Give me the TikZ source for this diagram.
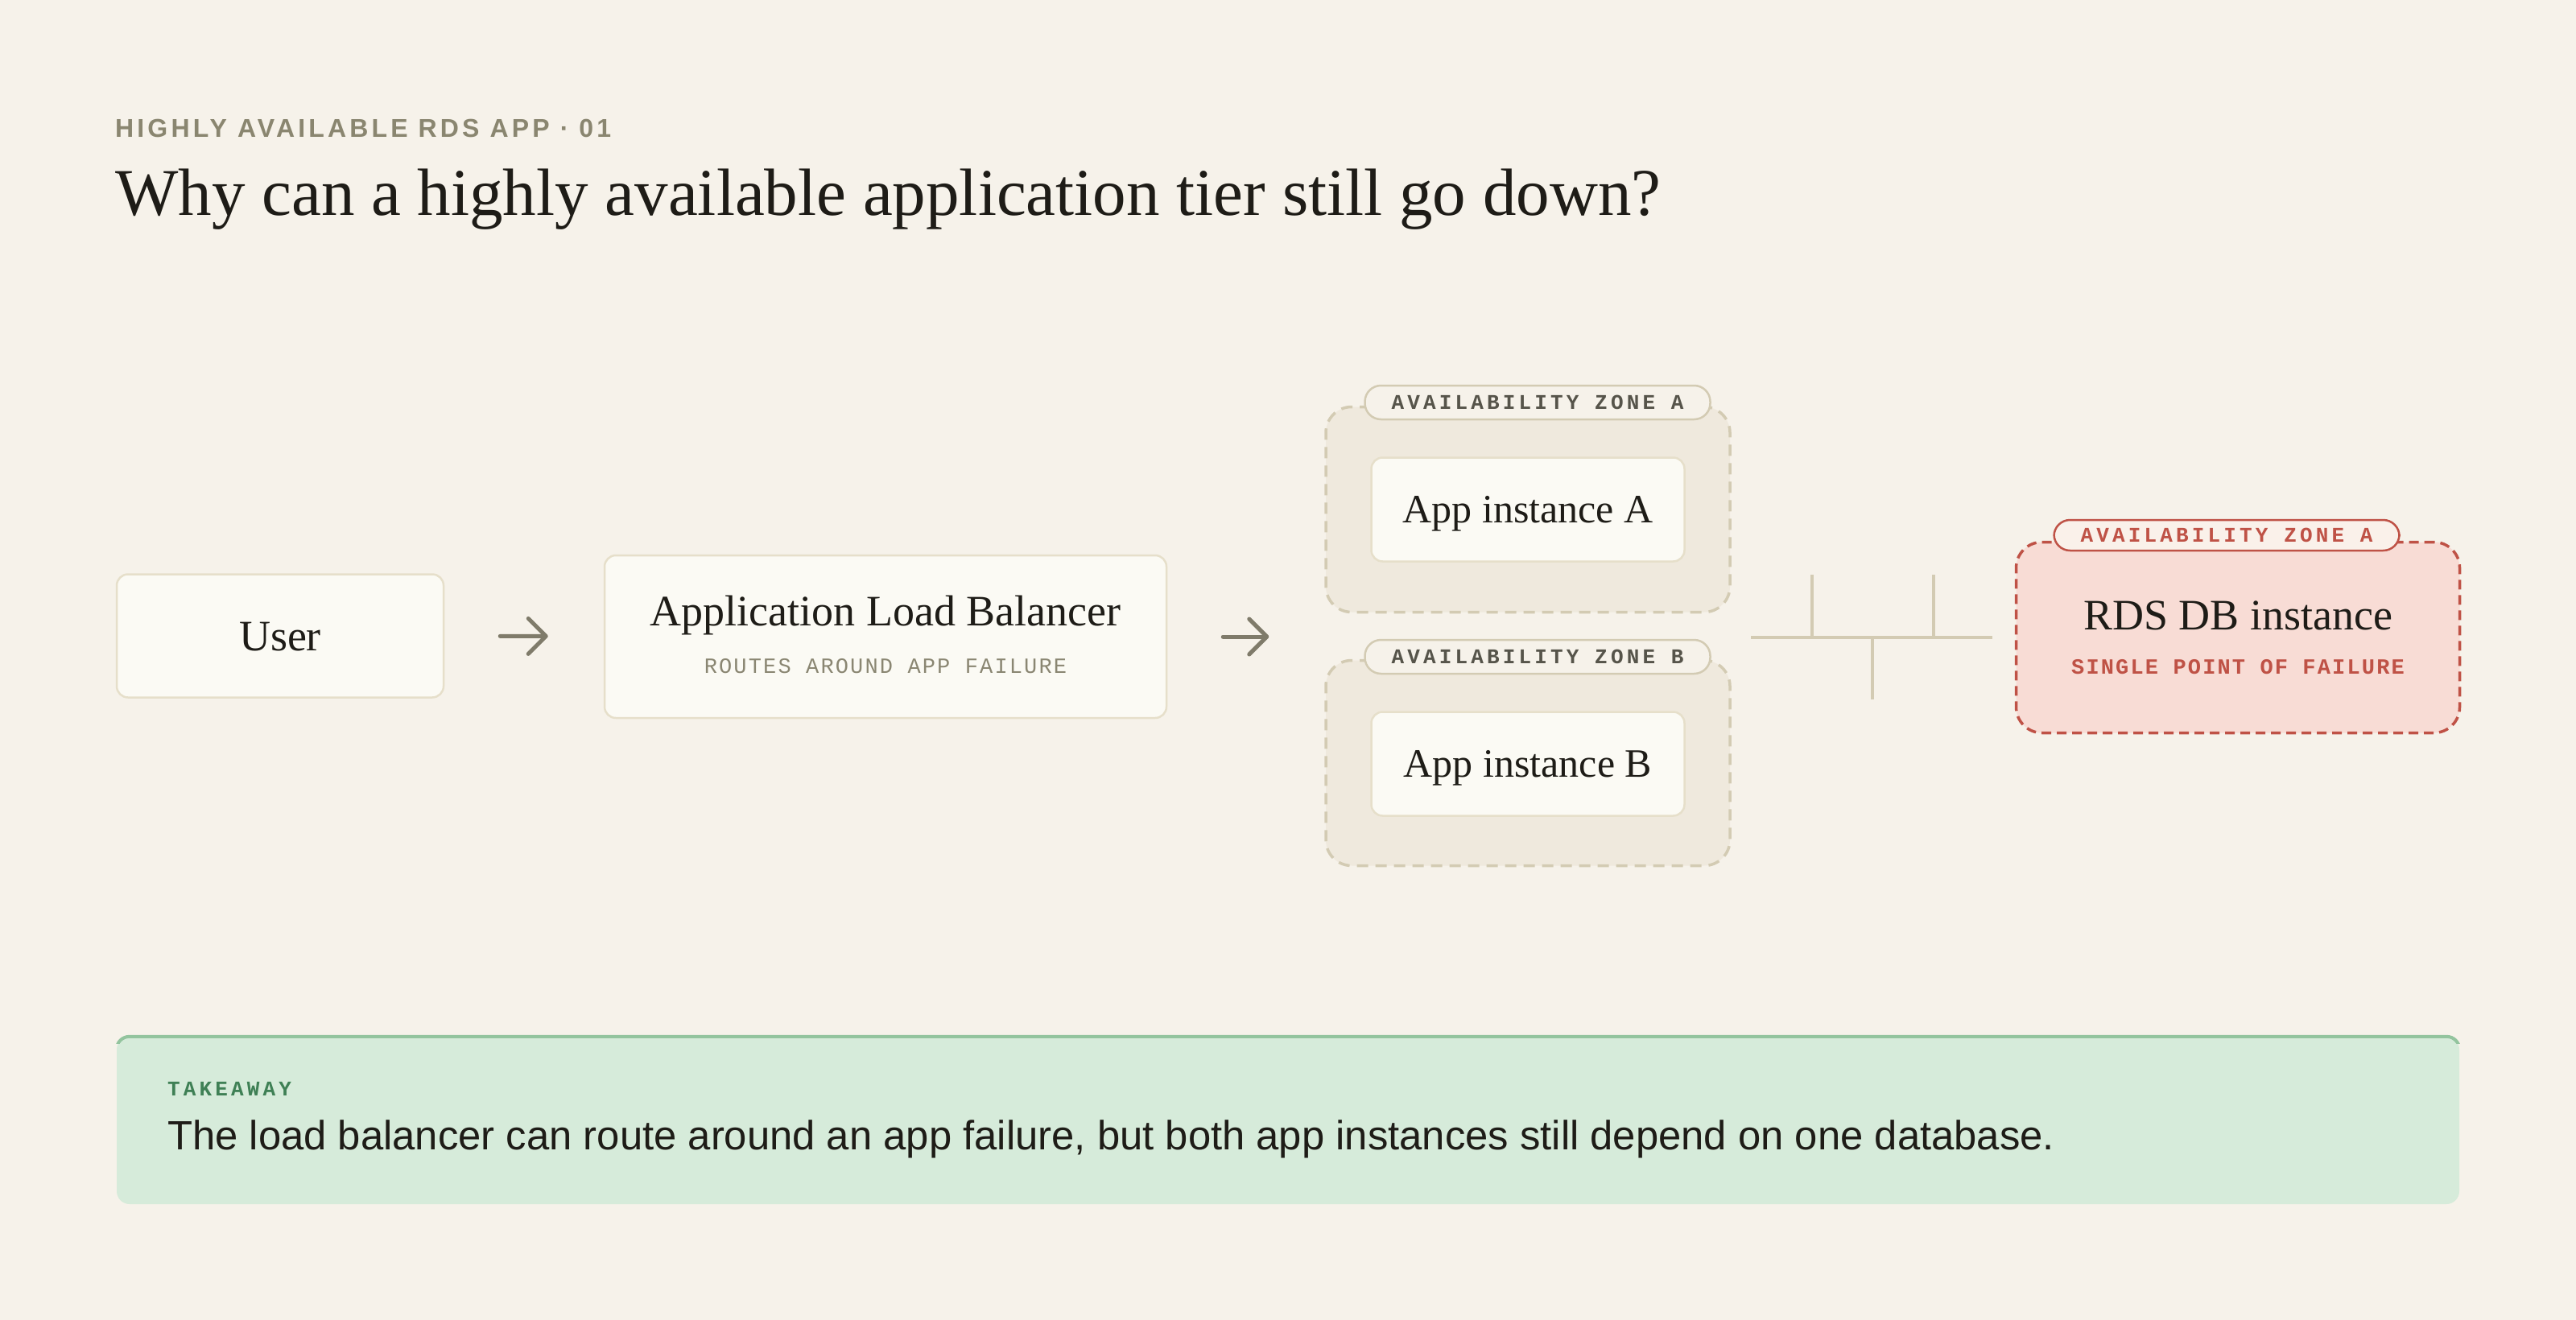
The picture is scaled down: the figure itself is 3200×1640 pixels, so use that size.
\documentclass[tikz,border=0pt]{standalone}
\usepackage{fontspec}
\setmainfont{Liberation Serif}
\setsansfont{Liberation Sans}
\setmonofont{Liberation Mono}
\newfontfamily\kickerfont[LetterSpace=13]{Liberation Sans}
\newfontfamily\tagfont[LetterSpace=16]{Liberation Mono}
\newfontfamily\notefont[LetterSpace=8]{Liberation Mono}
\usetikzlibrary{arrows.meta}
\definecolor{bgcream}{HTML}{F6F2EA}
\definecolor{kicker}{HTML}{8A8670}
\definecolor{ink}{HTML}{1E1C17}
\definecolor{cardfill}{HTML}{FBFAF4}
\definecolor{cardline}{HTML}{E6DFCA}
\definecolor{zonefill}{HTML}{EFE9DD}
\definecolor{zoneline}{HTML}{D3CBB3}
\definecolor{tagtext}{HTML}{56544A}
\definecolor{arrowgray}{HTML}{7F7B6A}
\definecolor{notegray}{HTML}{8A8672}
\definecolor{failfill}{HTML}{F8DCD5}
\definecolor{failred}{HTML}{BF5246}
\definecolor{failtag}{HTML}{FAF1EA}
\definecolor{takefill}{HTML}{D6EBDA}
\definecolor{takeline}{HTML}{93C49E}
\definecolor{takegreen}{HTML}{3F8055}
\begin{document}
\begin{tikzpicture}[x=1pt, y=-1pt, line join=round,
    card/.style={draw=cardline, fill=cardfill, line width=2.5pt, rounded corners=14pt, inner sep=0pt,
        text=ink, text height=36pt, text depth=0pt, font=\fontsize{54}{60}\selectfont},
    zonebox/.style={draw=zoneline, fill=zonefill, line width=3.5pt, dash pattern=on 14pt off 9pt,
        rounded corners=32pt, minimum width=502pt, minimum height=255pt, inner sep=0pt},
    tag/.style={draw=zoneline, fill=bgcream, line width=2.5pt, rounded corners=20pt, minimum width=429pt,
        minimum height=42pt, inner sep=0pt, text=tagtext, font=\tagfont\bfseries\fontsize{26}{26}\selectfont},
    note/.style={anchor=base, inner sep=0pt, font=\notefont\fontsize{27}{27}\selectfont},
    flow/.style={draw=arrowgray, line width=5pt, line cap=round, shorten <=69pt, shorten >=69pt,
        -{Straight Barb[length=22pt, width=44pt, line cap=round, line join=round]}},
    bus/.style={draw=zoneline, line width=3.5pt}]
    \fill[bgcream] (0,0) rectangle (3200,1640);
    \useasboundingbox (0,0) rectangle (3200,1640);

    \node[anchor=base west, inner sep=0pt, text=kicker, font=\kickerfont\bfseries\fontsize{32}{32}\selectfont] (kicker) at (143,171) {HIGHLY AVAILABLE RDS APP · 01};
    \node[anchor=base west, inner sep=0pt, text=ink, font=\fontsize{83}{92}\selectfont] (title) at (143,267) {Why can a highly available application tier still go down?};

    \node[card, minimum width=406pt, minimum height=153pt] (user) at (348,790) {User};
    \node[card, minimum width=698pt, minimum height=202pt] (alb) at (1100,791) {};
    \node[anchor=base, inner sep=0pt, text=ink, font=\fontsize{54}{60}\selectfont] (albname) at (1100,777) {Application Load Balancer};
    \node[note, text=notegray] (albnote) at (1100,836) {ROUTES AROUND APP FAILURE};

    \node[zonebox] (zoneA) at (1898,633) {};
    \node[zonebox] (zoneB) at (1898,948) {};
    \node[tag] (tagA) at (1910,500) {AVAILABILITY ZONE A};
    \node[tag] (tagB) at (1910,816) {AVAILABILITY ZONE B};
    \node[card, minimum width=389pt, minimum height=129pt, text height=33pt, font=\fontsize{50}{56}\selectfont] (appA) at (1898,633) {App instance A};
    \node[card, minimum width=389pt, minimum height=129pt, text height=33pt, font=\fontsize{50}{56}\selectfont] (appB) at (1898,949) {App instance B};

    \draw[flow] (user) -- (alb);
    \draw[flow] (alb.east) -- (alb.east -| zoneA.west);

    \coordinate (busW) at (2175,792);
    \coordinate (busE) at (2475,792);
    \coordinate (tapA) at (2251,714);
    \coordinate (tapB) at (2402,714);
    \coordinate (tapC) at (2326,869);
    \draw[bus] (busW) -- (busE);
    \draw[bus] (tapA) -- (tapA |- busW);
    \draw[bus] (tapB) -- (tapB |- busW);
    \draw[bus] (tapC) -- (tapC |- busW);

    \node[draw=failred, fill=failfill, line width=3.5pt, dash pattern=on 12pt off 7pt, rounded corners=32pt,
        minimum width=551pt, minimum height=237pt, inner sep=0pt] (rds) at (2780,792) {};
    \node[tag, draw=failred, fill=failtag, text=failred, minimum height=38pt] (tagDB) at (2766,665) {AVAILABILITY ZONE A};
    \node[anchor=base, inner sep=0pt, text=ink, font=\fontsize{54}{60}\selectfont] (rdsname) at (2780,782) {RDS DB instance};
    \node[note, text=failred, font=\notefont\bfseries\fontsize{27}{27}\selectfont] (rdsnote) at (2780,837) {SINGLE POINT OF FAILURE};

    \node[fill=takefill, rounded corners=16pt, minimum width=2910pt, minimum height=208pt, inner sep=0pt] (takeaway) at (1600,1392) {};
    \begin{scope}
        \clip (140,1280) rectangle (3060,1296);
        \draw[takeline, line width=4pt, rounded corners=16pt] (takeaway.south west) rectangle (takeaway.north east);
    \end{scope}
    \node[anchor=base west, inner sep=0pt, text=takegreen, font=\tagfont\bfseries\fontsize{26}{26}\selectfont] (takelabel) at (208,1361) {TAKEAWAY};
    \node[anchor=base west, inner sep=0pt, text=ink, font=\sffamily\fontsize{50.8}{57}\selectfont] (takebody) at (208,1428) {The load balancer can route around an app failure, but both app instances still depend on one database.};
\end{tikzpicture}
\end{document}
